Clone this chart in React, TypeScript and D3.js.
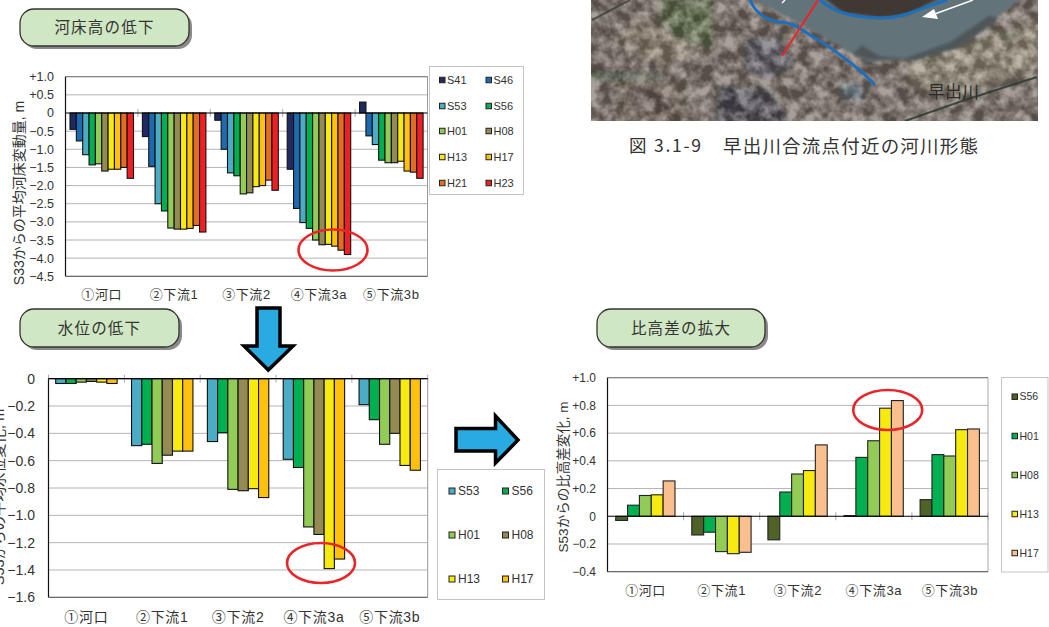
import React from "react";
import * as d3 from "d3";

const FONT = '"Liberation Sans","Noto Sans CJK JP",sans-serif';
const CJK = '"Noto Sans CJK JP",sans-serif';
const TXT = "#333";

const categories = ["①河口", "②下流1", "③下流2", "④下流3a", "⑤下流3b"];

// Chart 1: river bed change since S33
const bedSeries = ["S41", "S46", "S53", "S56", "H01", "H08", "H13", "H17", "H21", "H23"];
const bedS41 = [-0.45, -0.65, -0.2, -1.55, 0.3];
const bedS46 = [-0.77, -1.47, -1.0, -2.63, -0.63];
const bedS53 = [-1.15, -2.5, -1.65, -3.02, -0.87];
const bedS56 = [-1.43, -2.7, -1.73, -3.18, -1.3];
const bedH01 = [-1.4, -3.17, -2.23, -3.5, -1.37];
const bedH08 = [-1.6, -3.2, -2.2, -3.63, -1.37];
const bedH13 = [-1.55, -3.2, -2.03, -3.62, -1.33];
const bedH17 = [-1.55, -3.18, -2.0, -3.67, -1.6];
const bedH21 = [-1.5, -3.1, -1.85, -3.78, -1.63];
const bedH23 = [-1.8, -3.28, -2.13, -3.9, -1.8];
const bedValues = [bedS41, bedS46, bedS53, bedS56, bedH01, bedH08, bedH13, bedH17, bedH21, bedH23];
const bedColors = ["#1f2a60", "#1e6ab0", "#4bacc6", "#00b050", "#92cb55", "#948a54", "#f7ea10", "#ffc00e", "#e36c23", "#ee2024"];
const bedTicks = [1, 0.5, 0, -0.5, -1, -1.5, -2, -2.5, -3, -3.5, -4, -4.5];
const bedTickLabels = ["+1.0", "+0.5", "0", "−0.5", "−1.0", "−1.5", "−2.0", "−2.5", "−3.0", "−3.5", "−4.0", "−4.5"];

// Chart 2: water level change since S53
const wlSeries = ["S53", "S56", "H01", "H08", "H13", "H17"];
const wlS53 = [-0.035, -0.49, -0.46, -0.59, -0.19];
const wlS56 = [-0.035, -0.48, -0.395, -0.65, -0.3];
const wlH01 = [-0.025, -0.62, -0.81, -1.085, -0.48];
const wlH08 = [-0.02, -0.56, -0.82, -1.14, -0.4];
const wlH13 = [-0.025, -0.53, -0.805, -1.39, -0.635];
const wlH17 = [-0.035, -0.53, -0.87, -1.32, -0.67];
const wlValues = [wlS53, wlS56, wlH01, wlH08, wlH13, wlH17];
const wlColors = ["#4bacc6", "#00b050", "#92cb55", "#948a54", "#f7ea10", "#ffc00e"];
const wlTicks = [0, -0.2, -0.4, -0.6, -0.8, -1, -1.2, -1.4, -1.6];
const wlTickLabels = ["0", "−0.2", "−0.4", "−0.6", "−0.8", "−1.0", "−1.2", "−1.4", "−1.6"];

// Chart 3: relative height change since S53
const relSeries = ["S56", "H01", "H08", "H13", "H17"];
const relS56 = [-0.03, -0.135, -0.17, 0.005, 0.12];
const relH01 = [0.08, -0.115, 0.175, 0.425, 0.445];
const relH08 = [0.15, -0.255, 0.305, 0.545, 0.435];
const relH13 = [0.155, -0.27, 0.33, 0.78, 0.625];
const relH17 = [0.255, -0.26, 0.515, 0.835, 0.63];
const relValues = [relS56, relH01, relH08, relH13, relH17];
const relColors = ["#4f6228", "#00b050", "#92cb55", "#f7ea10", "#fabf8f"];
const relTicks = [1, 0.8, 0.6, 0.4, 0.2, 0, -0.2, -0.4];
const relTickLabels = ["+1.0", "+0.8", "+0.6", "+0.4", "+0.2", "0", "−0.2", "−0.4"];

type ChartProps = {
  x0: number; x1: number; y0: number; y1: number;
  domain: [number, number];
  inner: [number, number];
  series: string[]; values: number[][]; colors: string[];
  ticks: number[]; tickLabels: string[];
  tickX: number; tickSize: number;
  catY: number; catSize: number; catSpacing: number;
  barStroke: string;
  frame: string;
};

function BarChart(p: ChartProps) {
  const x = d3.scaleBand<string>().domain(categories).range([p.x0, p.x1]);
  const xi = d3.scaleBand<string>().domain(p.series).range(p.inner);
  const y = d3.scaleLinear().domain(p.domain).range([p.y0, p.y1]);
  const zero = y(0);
  const bounds = [...categories.map((c) => x(c)!), p.x1];
  return (
    <g>
      {p.ticks.filter((t) => t !== 0).map((t) => (
        <line key={t} x1={p.x0} x2={p.x1} y1={y(t)} y2={y(t)} stroke="#b4b4b4" strokeWidth={1} />
      ))}
      <line x1={p.x1} x2={p.x1} y1={p.y0} y2={p.y1} stroke={p.frame} />
      <line x1={p.x0} x2={p.x1} y1={p.y1} y2={p.y1} stroke="#555" />
      <line x1={p.x0} x2={p.x1} y1={p.y0} y2={p.y0} stroke="#777" />
      {bounds.map((b, i) => (
        <line key={i} x1={b} x2={b} y1={zero - 4} y2={zero + 4} stroke="#aaa" />
      ))}
      {p.series.map((s, si) =>
        p.values[si].map((v, ci) => (
          <rect
            key={s + ci}
            x={x(categories[ci])! + xi(s)!}
            width={xi.bandwidth()}
            y={Math.min(y(v), zero)}
            height={Math.abs(y(v) - zero)}
            fill={p.colors[si]}
            stroke={p.barStroke}
            strokeWidth={1.1}
          />
        ))
      )}
      <line x1={p.x0} x2={p.x1} y1={zero} y2={zero} stroke="#000" strokeWidth={1.2} />
      <line x1={p.x0} x2={p.x0} y1={p.y0} y2={p.y1} stroke="#111" strokeWidth={1.2} />
      {p.ticks.map((t, i) => (
        <text key={t} x={p.tickX} y={y(t)} dy="0.36em" textAnchor="end" fontFamily={FONT} fontSize={p.tickSize} fill={TXT}>
          {p.tickLabels[i]}
        </text>
      ))}
      {categories.map((c) => (
        <text key={c} x={x(c)! + x.bandwidth() / 2} y={p.catY} dy="0.36em" textAnchor="middle" fontFamily={FONT} fontSize={p.catSize} letterSpacing={p.catSpacing} fill={TXT}>
          {c}
        </text>
      ))}
    </g>
  );
}

function Legend(props: { x: number; y: number; w: number; h: number; names: string[]; colors: string[]; cols: number[]; rows: number[]; size: number; sw: number; gap: number }) {
  const { x, y, w, h, names, colors, cols, rows, size, sw, gap } = props;
  return (
    <g>
      <rect x={x} y={y} width={w} height={h} fill="#fff" stroke="#c4c4c4" strokeWidth={1} />
      {names.map((n, i) => {
        const cx = cols[i % cols.length];
        const cy = rows[Math.floor(i / cols.length)];
        return (
          <g key={n}>
            <rect x={cx} y={cy - sw / 2} width={sw} height={sw} fill={colors[i]} stroke="#222" strokeWidth={1} />
            <text x={cx + sw + gap} y={cy} dy="0.36em" fontFamily={FONT} fontSize={size} fill={TXT}>{n}</text>
          </g>
        );
      })}
    </g>
  );
}

function Pill(props: { x: number; y: number; w: number; h: number; text: string }) {
  const { x, y, w, h, text } = props;
  return (
    <g>
      <rect x={x + 3} y={y + 3} width={w} height={h} rx={14} fill="#8a8a8a" />
      <rect x={x} y={y} width={w} height={h} rx={14} fill="#d0e7c4" stroke="#333" strokeWidth={1.3} />
      <text x={x + w / 2} y={y + h / 2} dy="0.36em" textAnchor="middle" fontFamily={CJK} fontSize={15.5} letterSpacing={1.2} fill={TXT}>{text}</text>
    </g>
  );
}

function Photo() {
  const blue = "#1b6fbd";
  return (
    <g clipPath="url(#photoClip)">
      <rect x={591} y={0} width={447} height={121} fill="#7f7369" />
      <g filter="url(#soft)">
        <polygon points="660,0 712,0 712,47 680,40 660,20" fill="#66754f" />
        <polygon points="591,70 660,76 660,82 591,80" fill="#566250" />
        <polygon points="745,40 775,36 795,60 770,80 745,70" fill="#5f5f6c" opacity={0.8} />
        <polygon points="720,85 770,90 790,121 715,121" fill="#4d4c58" opacity={0.85} />
        <polygon points="840,82 866,86 862,100 842,98" fill="#6c8392" opacity={0.8} />
        <polygon points="910,62 1038,18 1038,70 960,95 910,85" fill="#9a927e" />
        <polygon points="625,80 680,85 680,121 625,121" fill="#75655a" />
        <polygon points="640,20 700,50 660,65 620,40" fill="#93836f" />
      </g>
      <rect x={591} y={0} width={447} height={121} filter="url(#grain)" />
      <g filter="url(#soft2)">
        <polygon points="745,-5 793,20 843,48 868,62 900,60 945,50 975,30 1005,12 1025,-5" fill="#63737a" />
        <polygon points="820,-5 843,13 880,18 907,15 947,-5" fill="#3f3933" />
        <polygon points="862,45 880,56 905,58 950,42 990,15 998,20 960,47 915,60 870,60 852,54" fill="#50575a" />
      </g>
      <polyline points="592,20 630,0" fill="none" stroke="#34382f" strokeWidth={2} opacity={0.7} />
      <polyline points="905,121 965,100 1037,77" fill="none" stroke="#2b3a30" strokeWidth={2} opacity={0.85} />
      <path d="M750,0 C755,12 765,20 780,22 C790,22 797,26 813,37 C830,46 845,58 863,73 L875,85" fill="none" stroke={blue} strokeWidth={3} />
      <path d="M820,0 C832,10 845,17 880,18 C900,19 915,10 947,0" fill="none" stroke={blue} strokeWidth={3} />
      <line x1={818} y1={0} x2={782} y2={56} stroke="#ec2227" strokeWidth={2} />
      <line x1={973} y1={0} x2={932} y2={15} stroke="#fff" strokeWidth={1.4} />
      <polygon points="922,17 934,9 938,19" fill="#fff" />
      <line x1={785} y1={0} x2={782} y2={3} stroke="#fff" strokeWidth={1.4} />
      <text x={953.5} y={92} dy="0.36em" textAnchor="middle" fontFamily={CJK} fontSize={17} fill="#2c2c2c">早出川</text>
    </g>
  );
}

export default function App() {
  return (
    <svg width={1049} height={627} style={{ position: "absolute", left: 0, top: 0, background: "#fff" }}>
      <defs>
        <clipPath id="photoClip"><rect x={591} y={0} width={447} height={121} /></clipPath>
        <filter id="soft" x="-20%" y="-20%" width="140%" height="140%"><feGaussianBlur stdDeviation="3" /></filter>
        <filter id="soft2" x="-20%" y="-20%" width="140%" height="140%"><feGaussianBlur stdDeviation="1.5" /></filter>
        <filter id="grain" x="0" y="0" width="100%" height="100%" colorInterpolationFilters="sRGB">
          <feTurbulence type="fractalNoise" baseFrequency="0.08" numOctaves={3} seed={7} />
          <feColorMatrix type="matrix" values="2.4 0 0 0 -0.75  2.4 0 0 0 -0.75  2.4 0 0 0 -0.75  0 0 0 0 0.32" />
          <feGaussianBlur stdDeviation="0.7" />
        </filter>
      </defs>

      <Pill x={20} y={9} w={169} h={37} text="河床高の低下" />
      <Pill x={20} y={309} w={159} h={38} text="水位の低下" />
      <Pill x={597} y={309} w={168} h={38} text="比高差の拡大" />

      <BarChart x0={65.5} x1={427.5} y0={76.7} y1={276.3} domain={[1, -4.5]} inner={[4.5, 68]}
        series={bedSeries} values={bedValues} colors={bedColors} ticks={bedTicks} tickLabels={bedTickLabels}
        tickX={54} tickSize={12.5} catY={294} catSize={13} catSpacing={0.6} barStroke="#111" frame="#999" />
      <text transform="translate(24,193) rotate(-90)" textAnchor="middle" fontFamily={FONT} fontSize={14} fill={TXT}>S33からの平均河床変動量, m</text>
      <Legend x={429.5} y={66.5} w={94} h={128} names={bedSeries} colors={bedColors} cols={[439.5, 486]} rows={[80, 106, 131, 157, 183]} size={11} sw={5.5} gap={2} />

      <BarChart x0={48.5} x1={427.7} y0={378.7} y1={597.3} domain={[0, -1.6]} inner={[7.2, 68.6]}
        series={wlSeries} values={wlValues} colors={wlColors} ticks={wlTicks} tickLabels={wlTickLabels}
        tickX={35} tickSize={14} catY={617} catSize={14} catSpacing={0.7} barStroke="#111" frame="#999" />
      <text transform="translate(4,497) rotate(-90)" textAnchor="middle" fontFamily={FONT} fontSize={14.5} fill={TXT}>S53からの平均水位変化, m</text>
      <Legend x={437.5} y={469.5} w={107} h={130} names={wlSeries} colors={wlColors} cols={[449, 502.5]} rows={[491, 535, 579]} size={12} sw={6} gap={3} />

      <BarChart x0={607.5} x1={988} y0={377.7} y1={571.7} domain={[1, -0.4]} inner={[8.2, 67.5]}
        series={relSeries} values={relValues} colors={relColors} ticks={relTicks} tickLabels={relTickLabels}
        tickX={596} tickSize={12} catY={590} catSize={13} catSpacing={0.6} barStroke="#222" frame="#aaa" />
      <text transform="translate(568,477) rotate(-90)" textAnchor="middle" fontFamily={FONT} fontSize={13.5} fill={TXT}>S53からの比高差変化, m</text>
      <Legend x={1001.5} y={377.5} w={46.5} h={194.5} names={relSeries} colors={relColors} cols={[1012]} rows={[396.7, 436, 475, 514, 553]} size={10.5} sw={5.5} gap={2} />

      {/* Arrows */}
      <polygon points="257,308 280,308 280,346 293,346 268.3,370 244,346 257,346" fill="#29abe2" stroke="#000" strokeWidth={3.5} strokeLinejoin="miter" />
      <polygon points="456,428.5 495.5,428.5 495.5,416 518,440 495.5,463 495.5,451 456,451" fill="#29abe2" stroke="#000" strokeWidth={3.5} strokeLinejoin="miter" />

      {/* Highlight ellipses */}
      <ellipse cx={333} cy={250} rx={34.5} ry={20.5} fill="none" stroke="#e8262a" strokeWidth={2.6} />
      <ellipse cx={321} cy={563} rx={34} ry={20} fill="none" stroke="#e8262a" strokeWidth={2.6} />
      <ellipse cx={887.7} cy={410} rx={34.5} ry={20} fill="none" stroke="#e8262a" strokeWidth={2.6} />

      <Photo />
      <text x={629} y={146} dy="0.36em" textLength={72} lengthAdjust="spacing" fontFamily={CJK} fontSize={17.5} fill={TXT}>図 3.1-9</text>
      <text x={723} y={146} dy="0.36em" textLength={255} lengthAdjust="spacing" fontFamily={CJK} fontSize={18.5} fill={TXT}>早出川合流点付近の河川形態</text>
    </svg>
  );
}
